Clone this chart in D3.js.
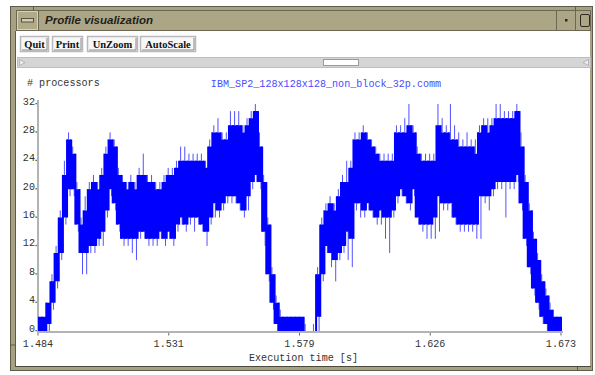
<!DOCTYPE html>
<html>
<head>
<meta charset="utf-8">
<script src="https://cdn.jsdelivr.net/npm/d3@7"></script>
<style>
  body { margin: 0; background: #fff; }
  svg { display: block; }
</style>
</head>
<body>
<svg id="chart" width="595" height="375"></svg>
<script>
// ---- data: processor-count profile, one bin every 1.5 ms ----
const times = [1.4840,1.4855,1.4870,1.4885,1.4900,1.4915,1.4930,1.4945,1.4960,1.4975,1.4990,1.5005,1.5020,1.5035,1.5050,1.5065,1.5080,1.5095,1.5110,1.5125,1.5140,1.5155,1.5170,1.5185,1.5200,1.5215,1.5230,1.5245,1.5260,1.5275,1.5290,1.5305,1.5320,1.5335,1.5350,1.5365,1.5380,1.5395,1.5410,1.5425,1.5440,1.5455,1.5470,1.5485,1.5500,1.5515,1.5530,1.5545,1.5560,1.5575,1.5590,1.5605,1.5620,1.5635,1.5650,1.5665,1.5680,1.5695,1.5710,1.5725,1.5740,1.5755,1.5770,1.5785,1.5800,1.5815,1.5830,1.5845,1.5860,1.5875,1.5890,1.5905,1.5920,1.5935,1.5950,1.5965,1.5980,1.5995,1.6010,1.6025,1.6040,1.6055,1.6070,1.6085,1.6100,1.6115,1.6130,1.6145,1.6160,1.6175,1.6190,1.6205,1.6220,1.6235,1.6250,1.6265,1.6280,1.6295,1.6310,1.6325,1.6340,1.6355,1.6370,1.6385,1.6400,1.6415,1.6430,1.6445,1.6460,1.6475,1.6490,1.6505,1.6520,1.6535,1.6550,1.6565,1.6580,1.6595,1.6610,1.6625,1.6640,1.6655,1.6670,1.6685,1.6700,1.6715,1.6730];

// busy-processor band (typical min / max within each bin)
const bandLow = [0,0,1,4,7,11,16,20,20,15,11,11,
  12,12,13,14,17,20,18,15,13,13,
  13,13,14,14,13,13,13,14,13,14,
  13,15,16,15,16,16,16,15,14,16,
  18,17,18,19,19,19,18,17,19,21,
  22,21,14,8,4,1,0,0,0,0,
  0,0,0,0,0,2,8,12,11,10,
  11,12,14,13,18,18,17,18,17,16,
  17,16,16,17,19,20,19,18,20,16,
  15,15,15,16,19,18,18,18,16,15,
  15,15,15,15,19,19,19,20,21,21,
  21,21,21,22,18,13,9,6,4,2,
  1,0,0,0,0];
const bandHigh = [2,2,4,7,11,16,22,27,25,20,15,17,
  20,21,20,22,25,27,26,22,21,20,
  21,20,22,22,21,21,20,20,21,22,
  22,23,24,24,24,24,24,24,23,26,
  28,28,27,27,29,29,29,28,29,30,
  31,26,21,15,8,4,2,2,2,2,
  2,2,0,0,0,8,15,17,18,17,
  19,21,21,23,27,27,28,27,26,25,
  24,24,24,24,28,28,28,29,28,25,
  24,24,24,24,29,28,28,27,27,26,
  26,26,26,25,28,29,28,29,30,30,
  30,30,30,31,26,21,17,13,10,7,
  5,3,2,2,0];
// short excursions outside the band
const spikeLow = [0,0,0,3,6,10,15,19,19,14,8,8,
  11,11,12,12,16,19,17,14,12,12,
  11,10,13,13,12,12,12,13,12,13,
  12,14,15,14,15,14,15,14,12,15,
  16,16,17,18,18,18,17,16,17,20,
  21,20,12,7,3,0,0,0,0,0,
  0,0,0,0,0,0,7,11,9,7,
  10,11,10,9,17,16,16,17,16,15,
  15,13,11,16,18,19,18,17,19,15,
  14,13,13,13,14,17,17,16,15,14,
  14,14,14,13,13,18,17,19,20,20,
  16,20,20,21,17,12,8,5,3,1,
  0,0,0,0,0];
const spikeHigh = [2,2,4,8,12,17,24,28,26,21,16,19,
  21,22,21,23,26,28,27,23,22,21,
  22,21,23,25,22,22,21,21,22,23,
  23,24,26,26,25,25,25,25,24,27,
  29,30,28,28,31,31,31,29,30,31,
  32,28,22,16,9,5,3,2,2,2,
  2,2,1,0,1,9,16,18,19,18,
  20,22,24,24,28,28,29,28,27,26,
  25,25,25,25,29,29,30,32,29,26,
  25,25,25,25,32,30,29,32,29,28,
  27,28,27,27,29,30,30,30,32,32,
  31,31,31,32,28,22,18,14,11,8,
  6,4,2,2,0];

const xTicks = [1.484, 1.53125, 1.5785, 1.62575, 1.673];
const xTickLabels = ["1.484", "1.531", "1.579", "1.626", "1.673"];
const yTicks = [0, 4, 8, 12, 16, 20, 24, 28, 32];
const buttonLabels = ["Quit", "Print", "UnZoom", "AutoScale"];
const windowTitle = "Profile visualization";
const traceName = "IBM_SP2_128x128x128_non_block_32p.comm";
const yAxisLabel = "# processors";
const xAxisLabel = "Execution time [s]";

// ---- drawing ----
const svg = d3.select("#chart");
const MONO = "'Liberation Mono', 'DejaVu Sans Mono', monospace";

// monospace label squeezed to ~6px per character
function monoText(parent, str, x, y, anchor, fill) {
  return parent.append("text")
    .attr("transform", `translate(${x},${y}) scale(0.92,1)`)
    .attr("text-anchor", anchor)
    .attr("font-family", MONO)
    .attr("font-size", 11)
    .attr("fill", fill)
    .text(str);
}

// window frame
svg.append("rect").attr("x", 10.5).attr("y", 6.5).attr("width", 582).attr("height", 364)
  .attr("fill", "#a7a183").attr("stroke", "#5f5b4a");
// resize-corner notches on the frame
[[33, 6, 33, 10], [575, 6, 575, 10], [10, 345, 15, 345], [577, 366, 577, 371]].forEach(s =>
  svg.append("line").attr("x1", s[0] + 0.5).attr("y1", s[1]).attr("x2", s[2] + 0.5).attr("y2", s[3])
    .attr("stroke", "#5f5b4a"));

// title bar
svg.append("rect").attr("x", 16.5).attr("y", 10.5).attr("width", 574).attr("height", 20)
  .attr("fill", "#aca687").attr("stroke", "#6b6753");
// window-menu button
svg.append("rect").attr("x", 17.5).attr("y", 11.5).attr("width", 20).attr("height", 18)
  .attr("fill", "#b0aa8b").attr("stroke", "#d8d3b8");
svg.append("rect").attr("x", 21.5).attr("y", 18.5).attr("width", 12).attr("height", 3.5)
  .attr("fill", "#d2ccb0").attr("stroke", "#57533f");
svg.append("line").attr("x1", 38.5).attr("y1", 11).attr("x2", 38.5).attr("y2", 30).attr("stroke", "#6b6753");
svg.append("text").attr("x", 45).attr("y", 24)
  .attr("font-family", "'Liberation Sans', Arial, sans-serif")
  .attr("font-style", "italic").attr("font-weight", "bold").attr("font-size", 11.5)
  .attr("fill", "#232118").text(windowTitle);
// minimise / maximise buttons
svg.append("line").attr("x1", 556.5).attr("y1", 11).attr("x2", 556.5).attr("y2", 30).attr("stroke", "#6b6753");
svg.append("line").attr("x1", 575.5).attr("y1", 11).attr("x2", 575.5).attr("y2", 30).attr("stroke", "#6b6753");
svg.append("rect").attr("x", 565).attr("y", 19).attr("width", 2.5).attr("height", 2.5).attr("fill", "#2b2920");
svg.append("rect").attr("x", 580.5).attr("y", 14.5).attr("width", 9).attr("height", 12).attr("rx", 1.5)
  .attr("fill", "none").attr("stroke", "#2b2920");

// client area
svg.append("rect").attr("x", 16).attr("y", 31).attr("width", 574).attr("height", 335).attr("fill", "#fff");
svg.append("line").attr("x1", 15.5).attr("y1", 31).attr("x2", 15.5).attr("y2", 367).attr("stroke", "#5f5b4a");
svg.append("line").attr("x1", 15).attr("y1", 366.5).attr("x2", 591).attr("y2", 366.5).attr("stroke", "#4d4a3c");

// tool buttons
const btnBoxes = [[20, 28], [52, 30], [87, 50], [140, 55]];
buttonLabels.forEach((lab, i) => {
  const [bx, bw] = btnBoxes[i];
  svg.append("rect").attr("x", bx + 0.5).attr("y", 36.5).attr("width", bw).attr("height", 15)
    .attr("fill", "#f7f7f7").attr("stroke", "#b9b9b9").attr("stroke-width", 1.5);
  svg.append("path").attr("d", `M${bx + 2},${50} H${bx + bw - 1} V${38}`)
    .attr("fill", "none").attr("stroke", "#8a8a8a");
  svg.append("text").attr("x", bx + bw / 2 + 0.5).attr("y", 47.5).attr("text-anchor", "middle")
    .attr("font-family", "'Liberation Serif', 'Times New Roman', serif")
    .attr("font-weight", "bold").attr("font-size", 10.5).attr("fill", "#111").text(lab);
});

// horizontal scrollbar
svg.append("rect").attr("x", 17.5).attr("y", 57.5).attr("width", 573).attr("height", 10)
  .attr("fill", "#d5d5d5").attr("stroke", "#bdbdbd");
svg.append("path").attr("d", "M19.5,59.5 L25,62.5 L19.5,65.5 Z").attr("fill", "#eee").attr("stroke", "#999").attr("stroke-width", 0.6);
svg.append("path").attr("d", "M588.5,59.5 L583,62.5 L588.5,65.5 Z").attr("fill", "#eee").attr("stroke", "#999").attr("stroke-width", 0.6);
svg.append("rect").attr("x", 323.5).attr("y", 59.5).attr("width", 35).attr("height", 6)
  .attr("fill", "#fff").attr("stroke", "#9a9a9a");

// ---- plot ----
const x = d3.scaleLinear().domain([1.484, 1.673]).range([38, 561]);
const y = d3.scaleLinear().domain([0, 32]).range([331, 104]);

const g = svg.append("g");

// axes lines
g.append("line").attr("x1", 38).attr("y1", 100).attr("x2", 38).attr("y2", 333)
  .attr("stroke", "#b3b3b3").attr("stroke-width", 2);
g.append("line").attr("x1", 37).attr("y1", 332).attr("x2", 563).attr("y2", 332)
  .attr("stroke", "#b3b3b3").attr("stroke-width", 2);

// y ticks + labels (tick dot sits at the label baseline)
yTicks.forEach(v => {
  const yy = y(v);
  g.append("rect").attr("x", 35.5).attr("y", yy - 1).attr("width", 1.3).attr("height", 1.3)
    .attr("fill", "#444");
  monoText(g, String(v), 35, yy + 0.5, "end", "#333");
});
// x ticks + labels
xTicks.forEach((t, i) => {
  const xx = x(t);
  g.append("line").attr("x1", xx).attr("x2", xx).attr("y1", 333).attr("y2", 335.5)
    .attr("stroke", "#666");
  monoText(g, xTickLabels[i], xx, 346.5, "middle", "#333");
});

monoText(g, yAxisLabel, 27, 86, "start", "#333");
monoText(g, traceName, 326, 87, "middle", "#4a4aff");
monoText(g, xAxisLabel, 303.5, 361, "middle", "#333");

// the profile trace
const rows = times.map((t, i) => ({
  t, lo: bandLow[i], hi: bandHigh[i], sLo: spikeLow[i], sHi: spikeHigh[i]
}));

const area = d3.area()
  .curve(d3.curveStepAfter)
  .x(d => x(d.t))
  .y0(d => y(d.lo))
  .y1(d => y(d.hi));

const trace = g.append("g");

// light excursions first, so the dense band sits on top of them
const spikes = trace.append("g").attr("stroke", "#5252ff").attr("stroke-width", 1);
rows.slice(0, -1).forEach(d => {
  const x0 = x(d.t);
  if (d.sHi > d.hi) {
    spikes.append("line").attr("x1", x0 + 1.5).attr("x2", x0 + 1.5)
      .attr("y1", y(d.hi)).attr("y2", y(d.sHi));
  }
  if (d.sLo < d.lo) {
    spikes.append("line").attr("x1", x0 + 3).attr("x2", x0 + 3)
      .attr("y1", y(d.lo)).attr("y2", y(d.sLo));
  }
});

trace.append("path").datum(rows).attr("d", area).attr("fill", "#0000ff");

// transitions between neighbouring bins: the count sweeps through every
// value between them, so the boundary is filled over both bins' ranges
const joins = trace.append("g").attr("fill", "#0000ff");
rows.slice(0, -1).forEach((d, i) => {
  const n = rows[i + 1];
  const top = Math.max(d.hi, n.hi), bot = Math.min(d.lo, n.lo);
  if (top > bot) {
    joins.append("rect").attr("x", x(n.t) - 1).attr("width", 2)
      .attr("y", y(top)).attr("height", y(bot) - y(top));
  }
});
</script>
</body>
</html>
